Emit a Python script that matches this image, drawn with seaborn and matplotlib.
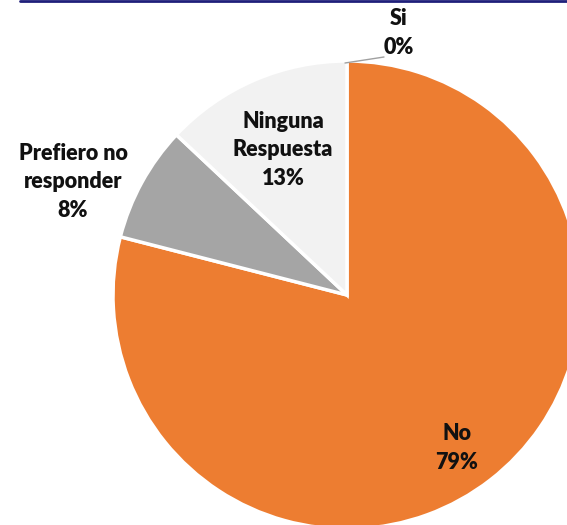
import matplotlib
matplotlib.use("Agg")
import matplotlib.pyplot as plt
import seaborn as sns
from matplotlib.lines import Line2D

sns.set_theme(style="white")
plt.rcParams['font.family'] = ['Lato', 'DejaVu Sans']

categories = ['Si', 'No', 'Prefiero no\nresponder', 'Ninguna\nRespuesta']
values = [0, 79, 8, 13]
colors = ['#4472C4', '#ED7D31', '#A5A5A5', '#F2F2F2']

fig = plt.figure(figsize=(5.67, 5.25), dpi=100)
ax = fig.add_axes([0, 0, 1, 1])

ax.pie(values, colors=colors, startangle=90, counterclock=False, radius=1,
       wedgeprops=dict(edgecolor='white', linewidth=2.5))
ax.set_aspect('auto')
ax.set_xlim(-347 / 234, 220 / 234)
ax.set_ylim(-230 / 234, 295 / 234)
ax.axis('off')

def px(x, y):
    return (x - 347) / 234, (295 - y) / 234

label_pos = [(399, 33), (457, 448), (73, 182), (283, 150)]
for cat, val, (lx, ly) in zip(categories, values, label_pos):
    x, y = px(lx, ly)
    ax.text(x, y, f"{cat}\n{val}%", ha='center', va='center', fontsize=15.5,
            fontweight='heavy', color='#111111', linespacing=1.42)

# leader line for the zero slice
x0, y0 = px(345, 63)
x1, y1 = px(384, 57)
ax.plot([x0, x1], [y0, y1], color='#A0A0A0', lw=1)

fig.add_artist(Line2D([20 / 567, 1], [1 - 1 / 525, 1 - 1 / 525],
                      transform=fig.transFigure, color='#1F1F7A', lw=2))

fig.savefig('out.png', dpi=100)
